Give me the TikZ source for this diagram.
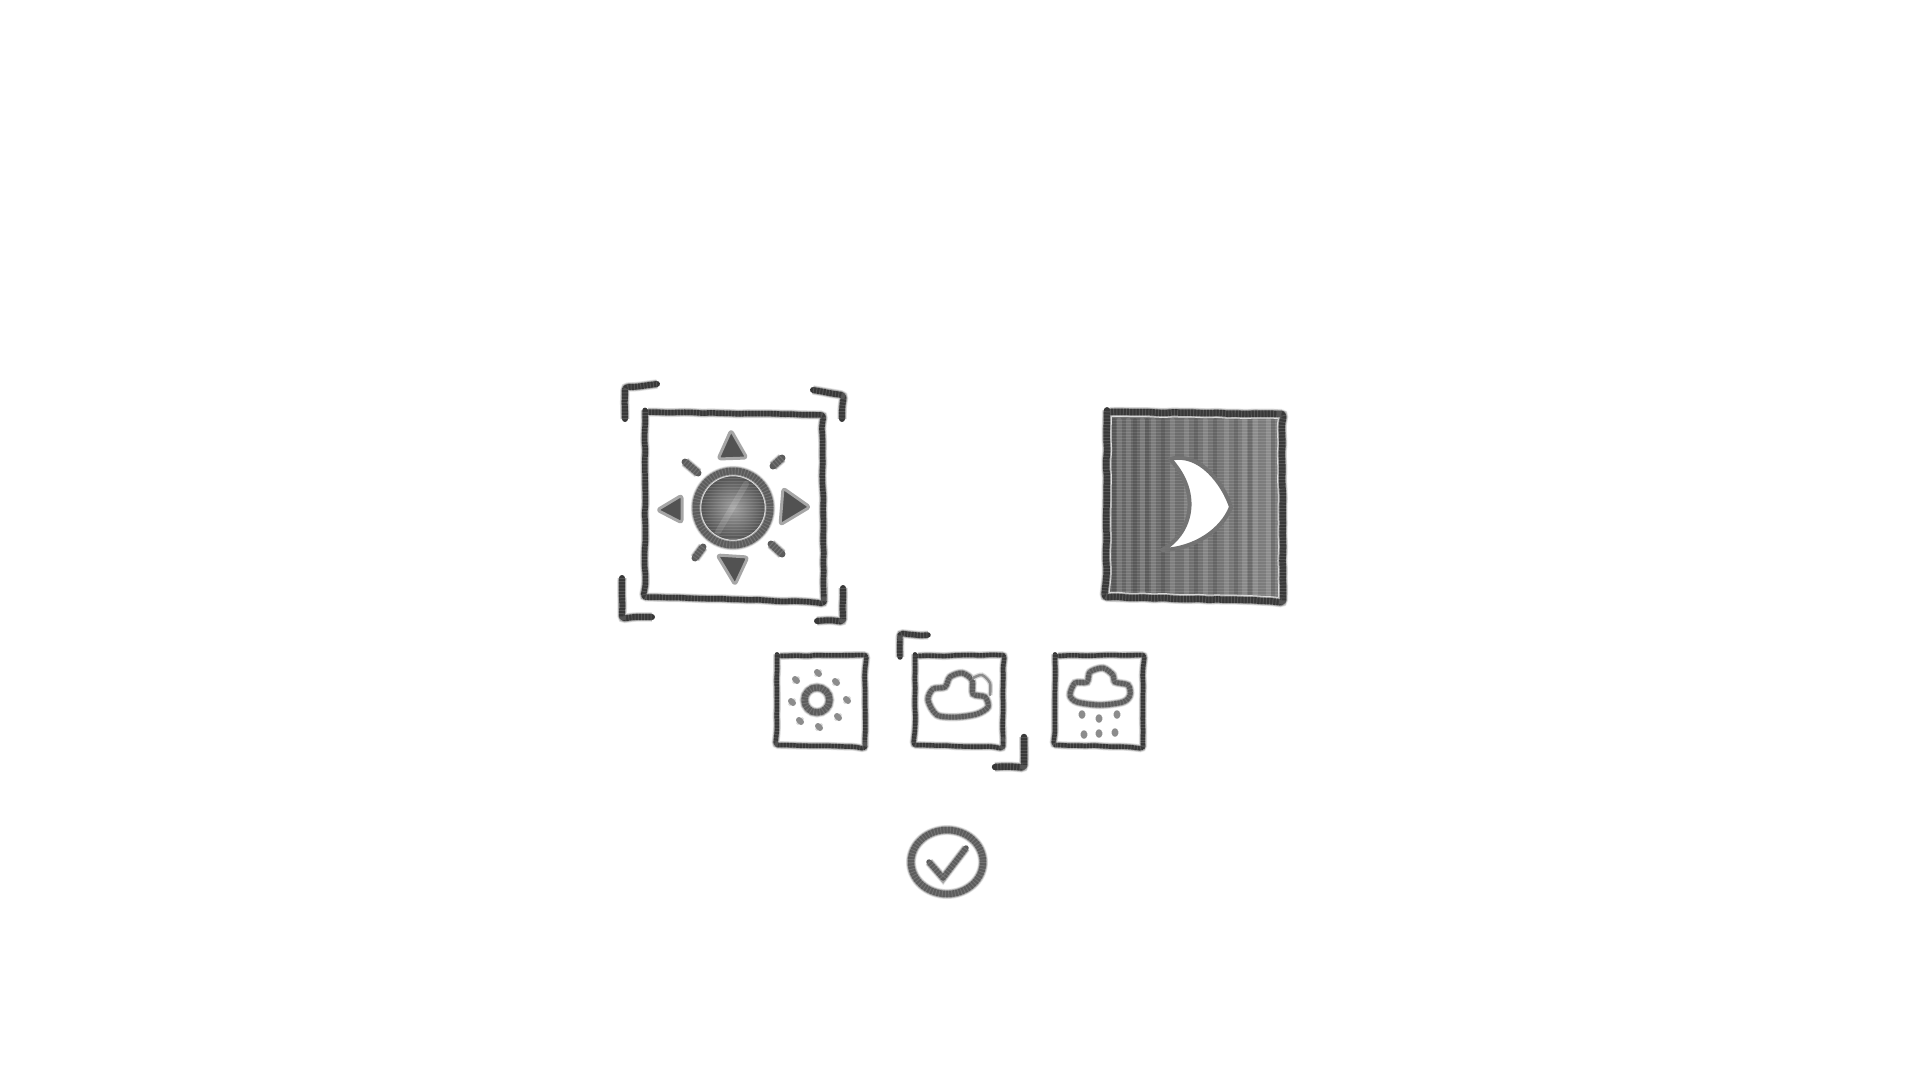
\documentclass[tikz,border=0pt]{standalone}
\usetikzlibrary{decorations.pathmorphing}
\tikzset{
  softedge/.style={draw=black!78,line width=#1,line cap=round,line join=round,
    preaction={draw=black!12,line width=#1+3.5pt},
    preaction={draw=black!35,line width=#1+1.8pt},
    postaction={draw=white,opacity=0.14,line width=#1+2pt,line cap=butt,dash pattern=on 1pt off 2.2pt}},
  pencil/.style={softedge=#1,rounded corners=3pt,
    decorate,decoration={random steps,segment length=9pt,amplitude=0.5pt}},
  pencil/.default=6pt,
  softpencil/.style={softedge=#1,draw=black!64},
  softpencil/.default=5pt,
  blob/.style={fill=black!68,draw=black!35,line width=3pt,line join=round,rounded corners=3pt},
  grain/.style={draw=white,opacity=0.12,line width=1pt},
  dotmark/.style={draw=black!45,line width=#1,line cap=round,
    preaction={draw=black!15,line width=#1+2.5pt}},
  streak/.style={line width=#1,draw=white,opacity=0.13,line cap=round},
  darkstreak/.style={line width=#1,draw=black,opacity=0.12,line cap=round},
}
\pgfmathsetseed{7}
\begin{document}
\begin{tikzpicture}[x=1pt,y=-1pt]
  \useasboundingbox (0,0) rectangle (1920,1080);
  \fill[white] (0,0) rectangle (1920,1080);
  % big sun
  \draw[pencil=5.5pt] (645,412) -- (822,415) -- (824,602) -- (645,597) -- cycle;
  \draw[pencil=6pt] (625,419) -- (625,389) -- (657,384);
  \draw[pencil=6pt] (813,390) -- (842,395) -- (842,419);
  \draw[pencil=6pt] (622,578) -- (622,617) -- (652,617);
  \draw[pencil=6pt] (843,588) -- (843,620) -- (817,621);
  \shade[inner color=black!38,outer color=black!72] (733,508) circle (37);
  \begin{scope}
    \clip (733,508) circle (37);
    \foreach \y in {472,475,...,545}
      \draw[grain] (696,\y) -- (770,\y);
  \end{scope}
  \draw[softpencil=7pt] (733,508) circle (37);
  \draw[streak=6pt] (718,532) -- (746,484);
  \draw[blob] (731,430) -- (718,459) -- (747,458) -- cycle;
  \draw[blob] (657,510) -- (682,495) -- (682,523) -- cycle;
  \draw[blob] (810,507) -- (783,488) -- (780,525) -- cycle;
  \draw[blob] (735,585) -- (717,555) -- (748,557) -- cycle;
  \foreach \xa/\ya/\xb/\yb in {685/462/698/473,782/458/773/466,703/547/695/558,771/544/782/554}
    \draw[softpencil=7pt] (\xa,\ya) -- (\xb,\yb);
  % moon
  \shade[left color=black!62,right color=black!50] (1107,412) rectangle (1283,601);
  \foreach \y in {414,417,...,600}
    \draw[grain] (1107,\y) -- (1283,\y);
  \foreach \x in {1119,1128,1142,1153,1172,1186,1205,1226,1244,1255,1268}
    \draw[streak=5pt] (\x,420) -- (\x,595);
  \foreach \x in {1114,1135,1147,1163,1196,1215,1236,1250,1273}
    \draw[darkstreak=4pt] (\x,420) -- (\x,595);
  \draw[pencil=6.5pt] (1107,412) -- (1282,414) -- (1283,601) -- (1106,597) -- cycle;
  \draw[fill=white,draw=black!55,line width=4pt,line join=round]
    (1170,459) .. controls (1200,451) and (1224,485) .. (1231,507)
    .. controls (1222,530) and (1195,549) .. (1162,550)
    .. controls (1190,535) and (1203,495) .. cycle;
  % small boxes
  \foreach \xl/\xr in {777/865,915/1003,1055/1143}
    \draw[pencil=4.5pt] (\xl,656) -- (\xr,655) -- (\xr,747) -- (\xl,745) -- cycle;
  \draw[softpencil=6.5pt] (817,700) circle (12.5);
  \foreach \x/\y in {817/672,795/679,835/681,791/701,846/699,799/720,837/716,818/726}
    \draw[dotmark=6pt] (\x,\y) -- ++(2,2);
  \draw[softpencil=5pt] plot[smooth cycle] coordinates {(928,700) (933,689) (945,687) (950,677) (962,673) (972,680) (973,694) (985,697) (988,707) (977,714) (957,717) (937,715)};
  \draw[dotmark=2.5pt] plot[smooth] coordinates {(973,678) (982,675) (990,683) (990,695)};
  \draw[softpencil=5pt] plot[smooth cycle] coordinates {(1070,695) (1075,683) (1087,682) (1090,672) (1103,668) (1113,675) (1115,682) (1128,685) (1130,695) (1123,702) (1100,705) (1077,702)};
  \foreach \x/\y in {1082/713,1099/717,1117/713,1084/733,1099/732,1115/731}
    \draw[dotmark=5.5pt] (\x,\y) -- ++(0,3);
  \draw[pencil=5.5pt] (900,657) -- (900,635) -- (928,635);
  \draw[pencil=6.5pt] (1024,737) -- (1024,766) -- (995,767);
  % check
  \draw[softpencil=6.5pt] (947,862) ellipse (36 and 32);
  \draw[softpencil=5.5pt] (929,862) -- (943,878) -- (966,848);
\end{tikzpicture}
\end{document}
